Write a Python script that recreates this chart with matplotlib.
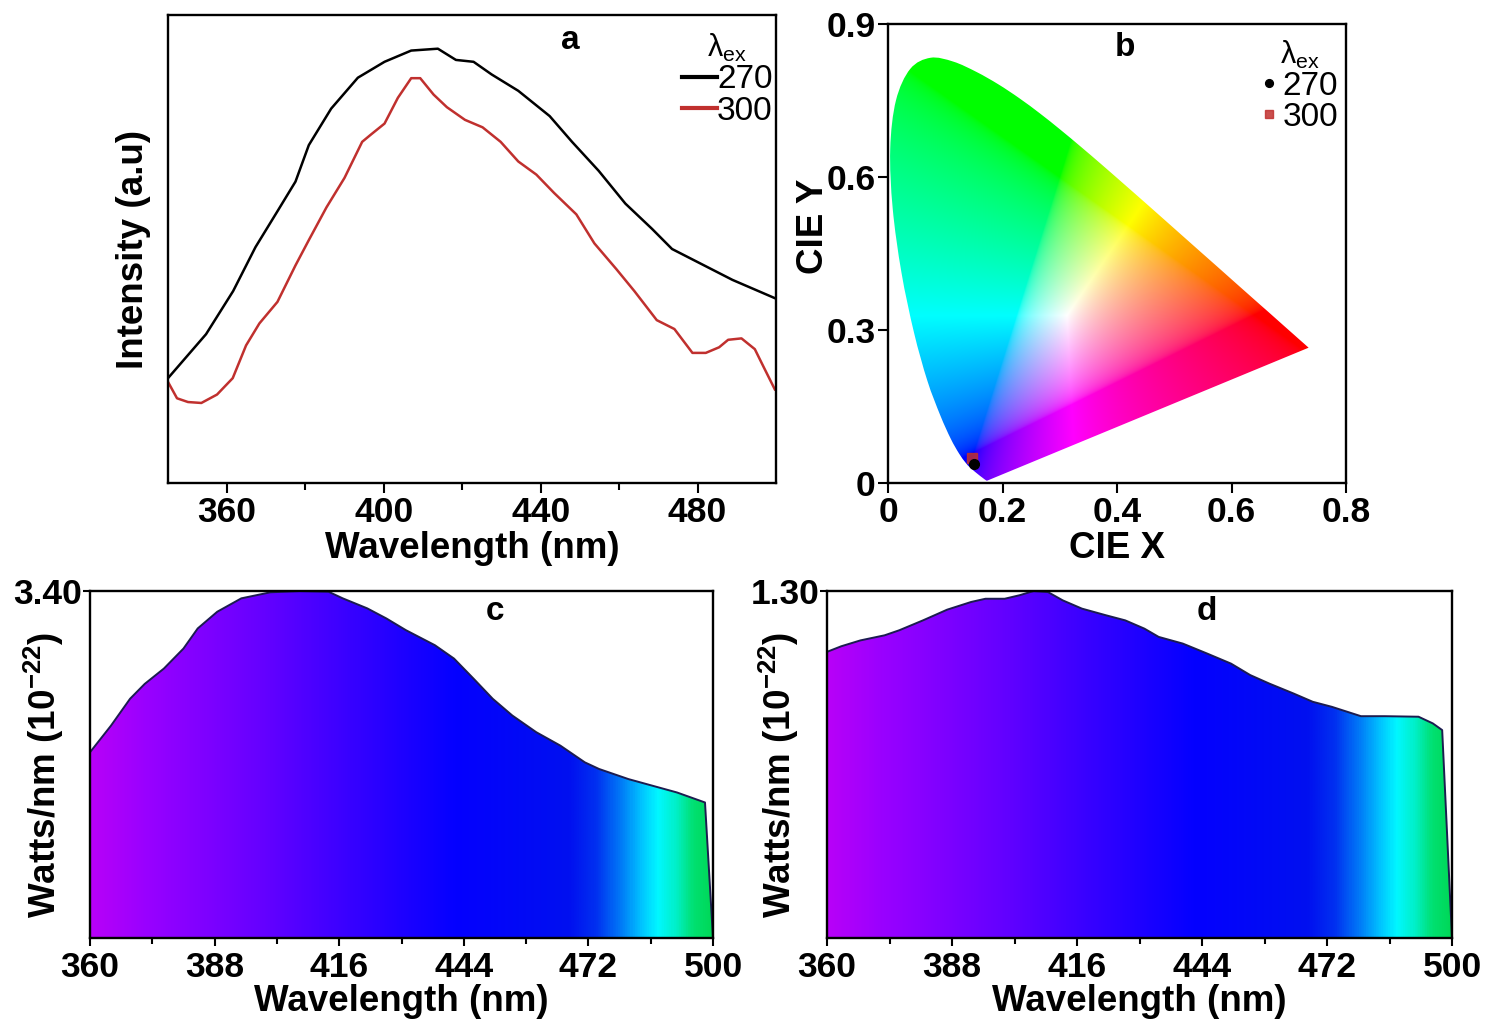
import numpy as np
import matplotlib
matplotlib.use("Agg")
import matplotlib.pyplot as plt
from matplotlib.colors import LinearSegmentedColormap
from matplotlib.patches import Polygon, PathPatch
from matplotlib.path import Path

plt.rcParams['font.family'] = ['Liberation Sans', 'DejaVu Sans']
plt.rcParams['mathtext.default'] = 'regular'
plt.rcParams['axes.linewidth'] = 1.7

# ---------------- data ----------------
# panel a : PL emission spectra (normalised intensity)
a_wl_270 = [345, 354.7, 361.6, 367.3, 373, 377.5, 380.9, 386.6, 393.4, 400.2, 407, 413.8,
            418.4, 422.9, 427.5, 434.3, 442.3, 448, 454.8, 461.6, 468.4, 473.5, 479.8,
            488.9, 499.7]
a_int_270 = [0.224, 0.318, 0.41, 0.504, 0.582, 0.644, 0.722, 0.80, 0.866, 0.90, 0.924, 0.928,
             0.904, 0.90, 0.873, 0.838, 0.784, 0.729, 0.667, 0.597, 0.543, 0.50, 0.473,
             0.434, 0.395]
a_wl_300 = [345, 347.3, 350.1, 353.5, 357.5, 361.5, 364.9, 368.3, 372.9, 377.5, 380.9, 385.4,
            390, 394.5, 396.8, 400.2, 403.6, 407, 409.3, 412.7, 416.1, 420.7, 425.2, 429.8,
            434.3, 438.9, 443.4, 449.1, 453.7, 459.3, 463.9, 469.6, 474.1, 478.7, 482.1,
            485.5, 487.8, 491.2, 494.6, 496.9, 499.7]
a_int_300 = [0.216, 0.181, 0.173, 0.171, 0.189, 0.224, 0.294, 0.341, 0.387, 0.465, 0.519, 0.589,
             0.652, 0.729, 0.745, 0.768, 0.823, 0.865, 0.865, 0.83, 0.803, 0.776, 0.76, 0.729,
             0.687, 0.659, 0.62, 0.574, 0.512, 0.457, 0.41, 0.348, 0.329, 0.278, 0.278,
             0.29, 0.306, 0.309, 0.286, 0.247, 0.20]
a_labels = ['270', '300']

# panel b : CIE 1931 spectral locus and chromaticity points
locus_x = [0.1741, 0.1733, 0.1714, 0.1644, 0.1566, 0.1440, 0.1355, 0.1241, 0.1096, 0.0913,
           0.0687, 0.0454, 0.0235, 0.0082, 0.0039, 0.0139, 0.0389, 0.0743, 0.1142, 0.1547,
           0.1929, 0.2296, 0.2658, 0.3016, 0.3373, 0.3731, 0.4087, 0.4441, 0.4788, 0.5125,
           0.5448, 0.5752, 0.6029, 0.6270, 0.6482, 0.6658, 0.6915, 0.7079, 0.7190, 0.7260,
           0.7300, 0.7334, 0.7347]
locus_y = [0.0050, 0.0048, 0.0051, 0.0109, 0.0177, 0.0297, 0.0399, 0.0578, 0.0868, 0.1327,
           0.2007, 0.2950, 0.4127, 0.5384, 0.6548, 0.7502, 0.8120, 0.8338, 0.8262, 0.8059,
           0.7816, 0.7543, 0.7243, 0.6923, 0.6589, 0.6245, 0.5896, 0.5547, 0.5202, 0.4866,
           0.4544, 0.4242, 0.3965, 0.3725, 0.3514, 0.3340, 0.3083, 0.2920, 0.2809, 0.2740,
           0.2700, 0.2666, 0.2653]
cie_x = [0.151, 0.146]
cie_y = [0.038, 0.050]
b_labels = ['270', '300']

# panel c : spectral power distribution (270 nm excitation)
c_wl = [360, 364.7, 369.0, 372.3, 376.6, 381, 384.2, 388.6, 394, 400.5, 407.1, 413.6, 416.8,
        422.3, 426.6, 431, 437.5, 441.8, 446.2, 450.5, 454.9, 460.3, 465.7, 471.2, 474.4,
        481, 486.4, 491.9, 498.2, 500]
c_pow = [1.82, 2.08, 2.344, 2.49, 2.64, 2.836, 3.033, 3.197, 3.328, 3.387, 3.40, 3.393, 3.328,
         3.23, 3.131, 3.016, 2.869, 2.738, 2.541, 2.344, 2.18, 2.016, 1.885, 1.721, 1.656,
         1.557, 1.492, 1.426, 1.328, 0.0]

# panel d : spectral power distribution (300 nm excitation)
d_wl = [360, 363.2, 367.5, 372.9, 376.2, 381.5, 386.9, 392.3, 395.5, 399.8, 403.1, 406.3,
        409.5, 412.8, 417.1, 422.5, 426.8, 431.1, 434.3, 439.7, 445.1, 450.5, 454.8, 459.1,
        464.5, 468.8, 473.1, 479.6, 484.9, 492.5, 495.7, 497.8, 500]
d_pow = [1.072, 1.093, 1.115, 1.134, 1.153, 1.19, 1.23, 1.259, 1.271, 1.271, 1.284, 1.30,
         1.296, 1.265, 1.234, 1.209, 1.19, 1.159, 1.128, 1.103, 1.066, 1.028, 0.985, 0.953,
         0.916, 0.885, 0.866, 0.831, 0.831, 0.829, 0.804, 0.779, 0.0]

spd_ticks = [360, 388, 416, 444, 472, 500]
spd_minor = [374, 402, 430, 458, 486]

# ---------------- figure ----------------
fig = plt.figure(figsize=(14.95, 10.21), dpi=100)
W, H = 1495, 1021


def add_ax(l, r, t, b):
    return fig.add_axes([l / W, 1 - b / H, (r - l) / W, (b - t) / H])


FS = 25.5
LFS = 26.5
tick_kw = dict(fontsize=FS, fontweight='bold')

# ---- panel a ----
axa = add_ax(168, 776, 15, 483)
axa.plot(a_wl_270, a_int_270, color='black', lw=1.8, label=a_labels[0])
axa.plot(a_wl_300, a_int_300, color='#c0302e', lw=1.8, label=a_labels[1])
axa.set_xlim(345, 500)
axa.set_ylim(0, 1)
axa.set_yticks([])
axa.set_xticks([360, 400, 440, 480], ['360', '400', '440', '480'], **tick_kw)
axa.set_xticks([380, 420, 460], minor=True)
axa.tick_params(axis='x', which='major', direction='out', length=7, width=1.5, pad=2)
axa.tick_params(axis='x', which='minor', direction='out', length=5, width=1.5)
axa.set_xlabel('Wavelength (nm)', fontsize=LFS, fontweight='bold', labelpad=2)
axa.set_ylabel('Intensity (a.u)', fontsize=LFS, fontweight='bold', labelpad=12)
axa.text(447.6, 0.945, 'a', fontsize=24, fontweight='bold', ha='center', va='center')
lega = axa.legend(title='λ$_{ex}$', loc='upper right', bbox_to_anchor=(1.0, 0.972),
                  frameon=False, fontsize=24, title_fontsize=22, handlelength=1.05,
                  handletextpad=0.0, labelspacing=0.02, borderaxespad=0.0, borderpad=0.1)
for ln in lega.get_lines():
    ln.set_linewidth(3)

# ---- panel b ----
axb = add_ax(888, 1346, 24, 483)
xs = np.linspace(0, 0.8, 700)
ys = np.linspace(0.0005, 0.9, 700)
gx, gy = np.meshgrid(xs, ys)
X = gx / gy
Y = np.ones_like(gx)
Z = (1 - gx - gy) / gy
M = np.array([[3.2406, -1.5372, -0.4986],
              [-0.9689, 1.8758, 0.0415],
              [0.0557, -0.2040, 1.0570]])
rgb = np.einsum('ij,jkl->kli', M, np.stack([X, Y, Z]))
rgb = np.clip(rgb, 0, None)
rgb = rgb / np.maximum(rgb.max(axis=-1, keepdims=True), 1e-9)
rgb = np.where(rgb <= 0.0031308, 12.92 * rgb, 1.055 * np.power(rgb, 1 / 2.4) - 0.055)
rgb = np.clip(rgb, 0, 1)
im = axb.imshow(rgb, extent=[0, 0.8, 0.0005, 0.9], origin='lower', aspect='auto',
                interpolation='bilinear', zorder=1)

# smooth outline of the locus (Catmull-Rom as cubic Bezier) closed by the purple line
P = np.column_stack([locus_x, locus_y])
verts = [P[0]]
codes = [Path.MOVETO]
n = len(P)
for i in range(n - 1):
    p0 = P[max(i - 1, 0)]
    p1 = P[i]
    p2 = P[i + 1]
    p3 = P[min(i + 2, n - 1)]
    verts += [p1 + (p2 - p0) / 6.0, p2 - (p3 - p1) / 6.0, p2]
    codes += [Path.CURVE4] * 3
verts += [P[0], P[0]]
codes += [Path.LINETO, Path.CLOSEPOLY]
locus = PathPatch(Path(verts, codes), transform=axb.transData, facecolor='none',
                  edgecolor='none')
axb.add_patch(locus)
im.set_clip_path(locus)

axb.plot(cie_x[0], cie_y[0], 'o', color='black', ms=7, zorder=4, label=b_labels[0])
axb.plot(cie_x[1], cie_y[1], 's', color='#c0302e', ms=7, zorder=3, alpha=0.85,
         label=b_labels[1])
axb.set_xlim(0, 0.8)
axb.set_ylim(0, 0.9)
axb.set_xticks([0, 0.2, 0.4, 0.6, 0.8], ['0', '0.2', '0.4', '0.6', '0.8'], **tick_kw)
axb.set_yticks([0, 0.3, 0.6, 0.9], ['0', '0.3', '0.6', '0.9'], **tick_kw)
axb.tick_params(direction='out', length=7, width=1.5, pad=2)
axb.set_xlabel('CIE X', fontsize=LFS, fontweight='bold', labelpad=2)
axb.set_ylabel('CIE Y', fontsize=LFS, fontweight='bold')
axb.yaxis.set_label_coords(-0.125, 0.56)
axb.text(0.414, 0.853, 'b', fontsize=24, fontweight='bold', ha='center', va='center')
axb.legend(title='λ$_{ex}$', loc='upper right', bbox_to_anchor=(0.99, 0.975), frameon=False,
           fontsize=24, title_fontsize=22, handlelength=0.4, handletextpad=0.2,
           labelspacing=0.0, borderaxespad=0.0, borderpad=0.1, markerscale=0.8)

# ---- spectral colour map for panels c, d ----
stops_wl = [360, 372, 385, 400, 415, 430, 442, 468, 474, 480, 484, 488, 492, 496, 500]
stops_col = ['#b800f8', '#9a00ff', '#8000ff', '#6200ff', '#3f00ff', '#1e00ff', '#0400ff',
             '#0010f0', '#0030f0', '#0080f8', '#00c0ff', '#00f8ff', '#00f0c8', '#00e070',
             '#00d858']
spec_cmap = LinearSegmentedColormap.from_list(
    'spec', [((w - 360) / 140, c) for w, c in zip(stops_wl, stops_col)])


def spd_panel(ax, wl, pw, ymax, ytxt, letter, lx, ly, lab_x):
    grad = spec_cmap(np.linspace(0, 1, 800))[None, :, :]
    img = ax.imshow(grad, extent=[360, 500, 0, ymax], origin='lower', aspect='auto',
                    interpolation='bilinear', zorder=1)
    poly = Polygon(np.column_stack([list(wl) + [360], list(pw) + [0]]), closed=True,
                   transform=ax.transData, facecolor='none', edgecolor='none')
    ax.add_patch(poly)
    img.set_clip_path(poly)
    ax.plot(wl, pw, color='#1c1c50', lw=1.4, zorder=2)
    ax.set_xlim(360, 500)
    ax.set_ylim(0, ymax)
    ax.set_xticks(spd_ticks, [str(t) for t in spd_ticks], **tick_kw)
    ax.set_xticks(spd_minor, minor=True)
    ax.set_yticks([ymax], [ytxt], **tick_kw)
    ax.tick_params(which='major', direction='out', length=6, width=1.5, pad=3)
    ax.tick_params(axis='y', which='major', length=5, pad=0.5)
    ax.tick_params(which='minor', direction='out', length=4, width=1.5)
    ax.set_xlabel('Wavelength (nm)', fontsize=LFS, fontweight='bold', labelpad=0)
    ax.set_ylabel('Watts/nm (10$^{-22}$)', fontsize=LFS, fontweight='bold')
    ax.yaxis.set_label_coords(lab_x, 0.47)
    ax.text(lx, ly, letter, fontsize=24, fontweight='bold', ha='center', va='center')


axc = add_ax(90, 713, 591, 938)
spd_panel(axc, c_wl, c_pow, 3.40, '3.40', 'c', 451, 3.20, -0.039)

axd = add_ax(827, 1452, 591, 938)
spd_panel(axd, d_wl, d_pow, 1.30, '1.30', 'd', 445, 1.225, -0.041)

fig.savefig('out.png', dpi=100)
